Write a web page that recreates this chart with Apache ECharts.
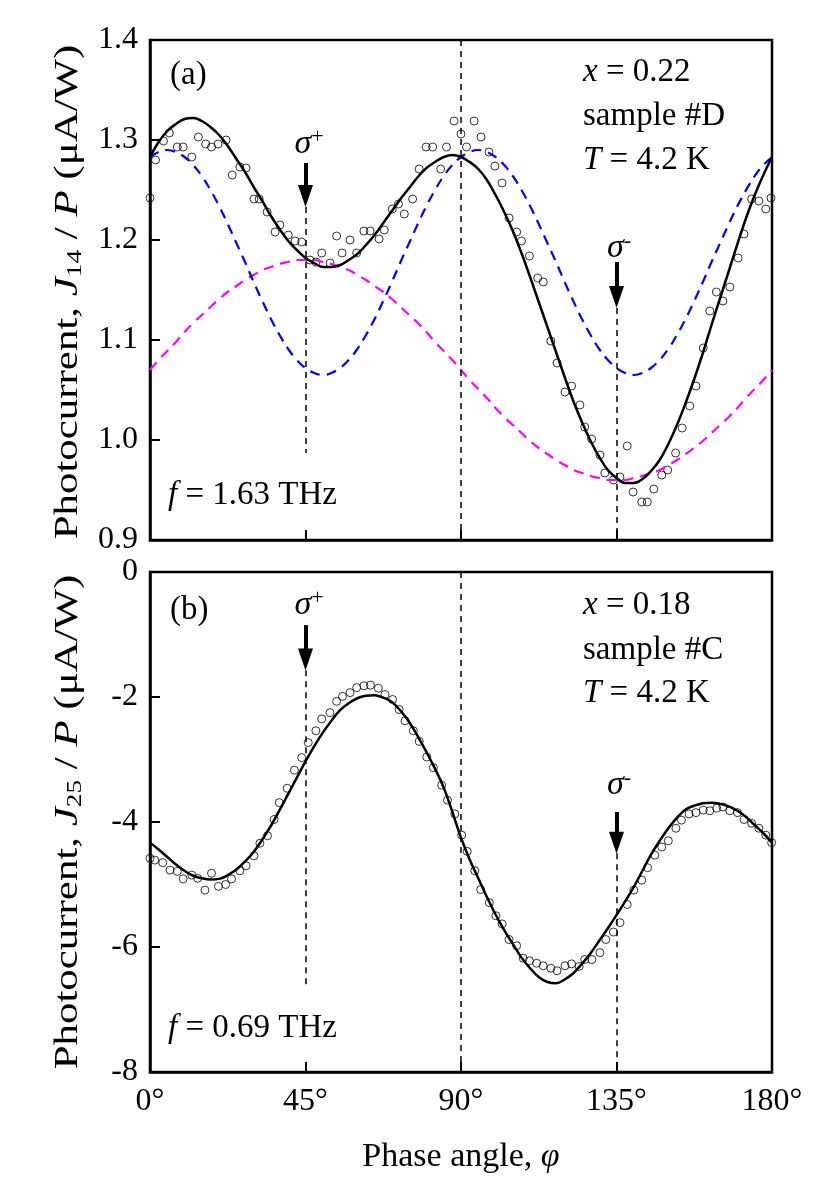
<!DOCTYPE html>
<html>
<head>
<meta charset="utf-8">
<script src="https://cdn.jsdelivr.net/npm/echarts@6/dist/echarts.min.js"></script>
<style>
  html, body { margin: 0; padding: 0; background: #fff; }
  #chart { width: 830px; height: 1192px; }
</style>
</head>
<body>
<div id="chart"></div>
<script>
const phiFit = [0, 2.5, 5, 7.5, 10, 12.5, 15, 17.5, 20, 22.5, 25, 27.5, 30, 32.5, 35, 37.5, 40, 42.5,
  45, 47.5, 50, 52.5, 55, 57.5, 60, 62.5, 65, 67.5, 70, 72.5, 75, 77.5, 80, 82.5, 85, 87.5,
  90, 92.5, 95, 97.5, 100, 102.5, 105, 107.5, 110, 112.5, 115, 117.5, 120, 122.5, 125, 127.5,
  130, 132.5, 135, 137.5, 140, 142.5, 145, 147.5, 150, 152.5, 155, 157.5, 160, 162.5, 165,
  167.5, 170, 172.5, 175, 177.5, 180]

// panel (a)
const aFit = [1.283, 1.298, 1.309, 1.316, 1.321, 1.322, 1.319, 1.313, 1.305, 1.294, 1.281, 1.268,
  1.253, 1.239, 1.224, 1.211, 1.199, 1.190, 1.182, 1.177, 1.173, 1.173, 1.175, 1.180, 1.186,
  1.195, 1.205, 1.217, 1.229, 1.241, 1.252, 1.263, 1.272, 1.278, 1.283, 1.285, 1.283, 1.278,
  1.271, 1.260, 1.245, 1.228, 1.209, 1.187, 1.163, 1.138, 1.113, 1.088, 1.063, 1.039, 1.018,
  0.999, 0.983, 0.970, 0.962, 0.957, 0.957, 0.961, 0.969, 0.980, 0.996, 1.015, 1.037, 1.061,
  1.087, 1.115, 1.142, 1.169, 1.196, 1.222, 1.245, 1.265, 1.283]
const aBlue = [1.283, 1.288, 1.290, 1.288, 1.283, 1.275, 1.264, 1.250, 1.234, 1.216, 1.197, 1.178,
  1.158, 1.139, 1.121, 1.105, 1.091, 1.080, 1.072, 1.067, 1.065, 1.067, 1.072, 1.080, 1.091,
  1.105, 1.121, 1.139, 1.158, 1.178, 1.197, 1.216, 1.234, 1.250, 1.264, 1.275, 1.283, 1.288,
  1.290, 1.288, 1.283, 1.275, 1.264, 1.250, 1.234, 1.216, 1.197, 1.178, 1.158, 1.139, 1.121,
  1.105, 1.091, 1.080, 1.072, 1.067, 1.065, 1.067, 1.072, 1.080, 1.091, 1.105, 1.121, 1.139,
  1.158, 1.178, 1.197, 1.216, 1.234, 1.250, 1.264, 1.275, 1.283]
const aMagenta = [1.070, 1.080, 1.089, 1.098, 1.108, 1.117, 1.125, 1.133, 1.141, 1.148, 1.154, 1.160,
  1.165, 1.170, 1.173, 1.176, 1.178, 1.180, 1.180, 1.180, 1.178, 1.176, 1.173, 1.170, 1.165,
  1.160, 1.154, 1.148, 1.141, 1.133, 1.125, 1.117, 1.108, 1.098, 1.089, 1.080, 1.070, 1.060,
  1.051, 1.042, 1.032, 1.023, 1.015, 1.007, 0.999, 0.992, 0.986, 0.980, 0.975, 0.970, 0.967,
  0.964, 0.962, 0.960, 0.960, 0.960, 0.962, 0.964, 0.967, 0.970, 0.975, 0.980, 0.986, 0.992,
  0.999, 1.007, 1.015, 1.023, 1.032, 1.042, 1.051, 1.060, 1.070]
const aPhi = [0.0, 1.6, 3.9, 5.6, 7.9, 9.6, 12.1, 14.0, 16.1, 17.8, 19.7, 22.0, 23.8, 26.0, 27.8,
  30.1, 31.6, 33.9, 36.2, 37.6, 40.0, 42.0, 43.9, 46.3, 48.0, 49.7, 52.1, 54.0, 55.6, 57.9, 59.8,
  61.9, 63.7, 66.3, 67.8, 70.1, 71.9, 73.6, 76.0, 77.9, 79.9, 81.8, 84.1, 85.8, 88.0, 90.0, 91.6,
  93.8, 95.8, 98.1, 99.8, 101.9, 103.9, 106.1, 107.5, 109.8, 112.2, 113.8, 116.0, 117.8, 120.1,
  122.0, 124.4, 125.8, 127.8, 130.2, 131.6, 134.1, 136.0, 138.1, 139.8, 142.3, 143.9, 145.8,
  148.1, 149.8, 152.1, 154.0, 156.2, 158.0, 160.1, 162.0, 163.9, 165.8, 167.8, 170.2, 171.9,
  174.1, 176.2, 178.2, 179.7]
const aData = [1.242, 1.280, 1.299, 1.307, 1.293, 1.293, 1.283, 1.303, 1.296, 1.293, 1.296, 1.300,
  1.265, 1.273, 1.272, 1.241, 1.241, 1.228, 1.208, 1.215, 1.205, 1.199, 1.198, 1.180, 1.178,
  1.187, 1.177, 1.204, 1.187, 1.200, 1.187, 1.209, 1.209, 1.201, 1.210, 1.231, 1.236, 1.226,
  1.241, 1.271, 1.293, 1.293, 1.271, 1.293, 1.319, 1.306, 1.293, 1.319, 1.303, 1.288, 1.274,
  1.257, 1.222, 1.208, 1.199, 1.184, 1.162, 1.158, 1.099, 1.077, 1.048, 1.054, 1.035, 1.013,
  1.001, 0.985, 0.967, 0.960, 0.963, 0.994, 0.948, 0.938, 0.938, 0.951, 0.965, 0.970, 0.987,
  1.012, 1.034, 1.054, 1.092, 1.129, 1.148, 1.139, 1.153, 1.182, 1.206, 1.241, 1.239, 1.231, 1.242]

// panel (b)
const bFit = [-4.33, -4.44, -4.56, -4.68, -4.78, -4.86, -4.90, -4.92, -4.91, -4.85, -4.76, -4.63,
  -4.48, -4.28, -4.06, -3.81, -3.55, -3.29, -3.03, -2.79, -2.57, -2.38, -2.21, -2.10, -2.02,
  -1.98, -1.97, -2.01, -2.08, -2.22, -2.40, -2.63, -2.88, -3.15, -3.45, -3.84, -4.25, -4.60,
  -4.90, -5.20, -5.48, -5.73, -5.95, -6.17, -6.34, -6.48, -6.56, -6.58, -6.52, -6.42, -6.27,
  -6.10, -5.90, -5.70, -5.49, -5.27, -5.04, -4.78, -4.52, -4.30, -4.10, -3.93, -3.80, -3.74,
  -3.70, -3.69, -3.71, -3.75, -3.82, -3.92, -4.05, -4.18, -4.33]
const bPhi = [0.0, 1.4, 3.7, 5.8, 7.9, 9.6, 12.1, 13.8, 15.9, 17.8, 19.8, 21.9, 23.6, 26.0, 27.8,
  30.1, 31.8, 34.0, 35.9, 37.4, 39.7, 41.8, 43.9, 45.8, 48.0, 49.7, 52.1, 54.0, 55.7, 57.9, 59.8,
  61.9, 63.8, 66.1, 68.0, 70.2, 72.1, 73.8, 76.2, 77.9, 80.1, 82.0, 84.4, 86.1, 88.2, 90.2, 91.8,
  94.0, 95.7, 98.2, 100.1, 101.9, 103.9, 106.1, 108.0, 109.8, 111.9, 113.8, 116.0, 117.8, 120.1,
  122.0, 124.2, 125.8, 127.9, 130.2, 131.9, 134.1, 136.0, 138.1, 140.0, 142.3, 144.0, 146.1,
  148.1, 150.0, 152.2, 153.8, 156.0, 158.0, 160.1, 162.0, 164.0, 165.8, 167.8, 170.0, 171.9,
  174.1, 176.2, 178.2, 179.9]
const bData = [-4.58, -4.61, -4.65, -4.77, -4.79, -4.91, -4.85, -4.90, -5.09, -4.82, -5.03, -5.00,
  -4.91, -4.78, -4.70, -4.54, -4.34, -4.22, -3.96, -3.69, -3.46, -3.17, -2.97, -2.73, -2.54,
  -2.35, -2.25, -2.07, -1.99, -1.93, -1.85, -1.82, -1.81, -1.86, -1.96, -2.04, -2.20, -2.38,
  -2.54, -2.71, -2.96, -3.13, -3.41, -3.65, -3.87, -4.21, -4.47, -4.78, -5.08, -5.29, -5.50,
  -5.63, -5.88, -5.98, -6.18, -6.22, -6.26, -6.30, -6.34, -6.38, -6.30, -6.27, -6.31, -6.20,
  -6.20, -6.09, -5.88, -5.76, -5.61, -5.32, -5.09, -4.93, -4.73, -4.53, -4.40, -4.30, -4.10,
  -3.97, -3.87, -3.85, -3.81, -3.82, -3.78, -3.76, -3.82, -3.85, -3.96, -4.02, -4.10, -4.21, -4.33]

const FONT = 'Liberation Serif'
const zip = (xs, ys) => xs.map((x, i) => [x, ys[i]])

const chart = echarts.init(document.getElementById('chart'))

const thinDash = { color: '#000', width: 1.5, type: [6, 5] }
const arrowLine = { color: '#000', width: 4, type: 'solid' }

function vline(x, y1, y2, style) {
  return [{ coord: [x, y1], lineStyle: style }, { coord: [x, y2] }]
}

function arrow(x, y1, y2) {
  return [{ coord: [x, y1], lineStyle: arrowLine, symbol: 'none', symbolSize: 0 },
          { coord: [x, y2], symbol: 'triangle', symbolSize: [15, 22] }]
}

function xAxisCfg(idx, showLabels) {
  return {
    type: 'value', gridIndex: idx, min: 0, max: 180, interval: 45,
    axisLine: { onZero: false, lineStyle: { color: '#000', width: 2.5 } },
    axisTick: { inside: true, length: 10, lineStyle: { color: '#000', width: 2 } },
    splitLine: { show: false },
    axisLabel: {
      show: showLabels, color: '#000', fontFamily: FONT, fontSize: 32, margin: 14,
      formatter: v => v + '°'
    },
    name: showLabels ? 'Phase angle, {i|φ}' : '',
    nameLocation: 'middle', nameGap: 68,
    nameTextStyle: {
      color: '#000', fontFamily: FONT, fontSize: 34,
      rich: { i: { fontStyle: 'italic', fontFamily: FONT, fontSize: 34, color: '#000' } }
    }
  }
}

function yAxisCfg(idx, min, max, interval, fmt) {
  return {
    type: 'value', gridIndex: idx, min: min, max: max, interval: interval,
    axisLine: { onZero: false, lineStyle: { color: '#000', width: 2.5 } },
    axisTick: { inside: true, length: 10, lineStyle: { color: '#000', width: 2 } },
    splitLine: { show: false },
    axisLabel: { color: '#000', fontFamily: FONT, fontSize: 32, margin: 12, formatter: fmt }
  }
}

function txt(x, y, rich, align, size) {
  const fs = size || 33
  return {
    type: 'text', x: x, y: y, z: 100,
    style: {
      text: rich, fill: '#000', font: fs + 'px "' + FONT + '"',
      align: align || 'left', verticalAlign: 'middle',
      rich: {
        i: { fontStyle: 'italic', fontFamily: FONT, fontSize: fs, fill: '#000' },
        sup: { fontFamily: FONT, fontSize: 22, fill: '#000', verticalAlign: 'top', padding: [0, 0, 14, 0] }
      }
    }
  }
}

// rotated y axis title, stretched along its length like the original
function yTitle(y, sub) {
  return {
    type: 'text', x: 68, y: y, rotation: Math.PI / 2, scaleX: 1.3, z: 100,
    style: {
      text: 'Photocurrent, {i|J}{s|' + sub + '} / {i|P} (μA/W)',
      fill: '#000', font: '33px "' + FONT + '"', align: 'center', verticalAlign: 'middle',
      rich: {
        i: { fontStyle: 'italic', fontFamily: FONT, fontSize: 33, fill: '#000' },
        s: { fontFamily: FONT, fontSize: 21, fill: '#000', verticalAlign: 'bottom', padding: [14, 0, 0, 0] }
      }
    }
  }
}

const options = {
  backgroundColor: '#fff',
  animation: false,
  grid: [
    { left: 150, top: 40, width: 622, height: 500, show: true, borderColor: '#000', borderWidth: 2.5 },
    { left: 150, top: 572, width: 622, height: 500, show: true, borderColor: '#000', borderWidth: 2.5 }
  ],
  xAxis: [xAxisCfg(0, false), xAxisCfg(1, true)],
  yAxis: [
    yAxisCfg(0, 0.9, 1.4, 0.1, v => v.toFixed(1)),
    yAxisCfg(1, -8, 0, 2, v => String(v))
  ],
  graphic: [
    yTitle(292, '14'),
    yTitle(822, '25'),
    txt(170, 75, '(a)'),
    txt(583, 72, '{i|x} = 0.22'),
    txt(583, 116, 'sample #D'),
    txt(583, 160, '{i|T} = 4.2 K'),
    txt(168, 495, '{i|f} = 1.63 THz'),
    txt(309, 144, '{i|σ}{sup|+}', 'center', 34),
    txt(619, 248, '{i|σ}{sup|-}', 'center', 34),
    txt(170, 610, '(b)'),
    txt(583, 605, '{i|x} = 0.18'),
    txt(583, 650, 'sample #C'),
    txt(583, 693, '{i|T} = 4.2 K'),
    txt(168, 1028, '{i|f} = 0.69 THz'),
    txt(309, 605, '{i|σ}{sup|+}', 'center', 34),
    txt(619, 785, '{i|σ}{sup|-}', 'center', 34)
  ],
  series: [
    {
      type: 'line', xAxisIndex: 0, yAxisIndex: 0, data: zip(phiFit, aMagenta),
      smooth: 0.4, symbol: 'none',
      lineStyle: { color: '#ff00ff', width: 2.2, type: [10, 7] }
    },
    {
      type: 'line', xAxisIndex: 0, yAxisIndex: 0, data: zip(phiFit, aBlue),
      smooth: 0.4, symbol: 'none',
      lineStyle: { color: '#0000ff', width: 2.2, type: [10, 7] }
    },
    {
      type: 'line', xAxisIndex: 0, yAxisIndex: 0, data: zip(phiFit, aFit),
      smooth: 0.4, symbol: 'none',
      lineStyle: { color: '#000', width: 2.5 },
      markLine: {
        silent: true, symbol: ['none', 'none'], label: { show: false },
        data: [
          vline(45, 1.233, 0.987, thinDash),
          vline(90, 1.4, 0.9, thinDash),
          vline(135, 1.132, 0.9, thinDash),
          arrow(45, 1.277, 1.244),
          arrow(135, 1.178, 1.143)
        ]
      }
    },
    {
      type: 'scatter', xAxisIndex: 0, yAxisIndex: 0, data: zip(aPhi, aData),
      symbol: 'circle', symbolSize: 8,
      itemStyle: { color: 'rgba(0,0,0,0)', borderColor: '#000', borderWidth: 1 }
    },
    {
      type: 'line', xAxisIndex: 1, yAxisIndex: 1, data: zip(phiFit, bFit),
      smooth: 0.4, symbol: 'none',
      lineStyle: { color: '#000', width: 2.5 },
      markLine: {
        silent: true, symbol: ['none', 'none'], label: { show: false },
        data: [
          vline(45, -1.57, -6.64, thinDash),
          vline(90, 0, -8, thinDash),
          vline(135, -4.5, -8, thinDash),
          arrow(45, -0.85, -1.40),
          arrow(135, -3.84, -4.33)
        ]
      }
    },
    {
      type: 'scatter', xAxisIndex: 1, yAxisIndex: 1, data: zip(bPhi, bData),
      symbol: 'circle', symbolSize: 8,
      itemStyle: { color: 'rgba(0,0,0,0)', borderColor: '#000', borderWidth: 1 }
    }
  ]
}

chart.setOption(options)
</script>
</body>
</html>
